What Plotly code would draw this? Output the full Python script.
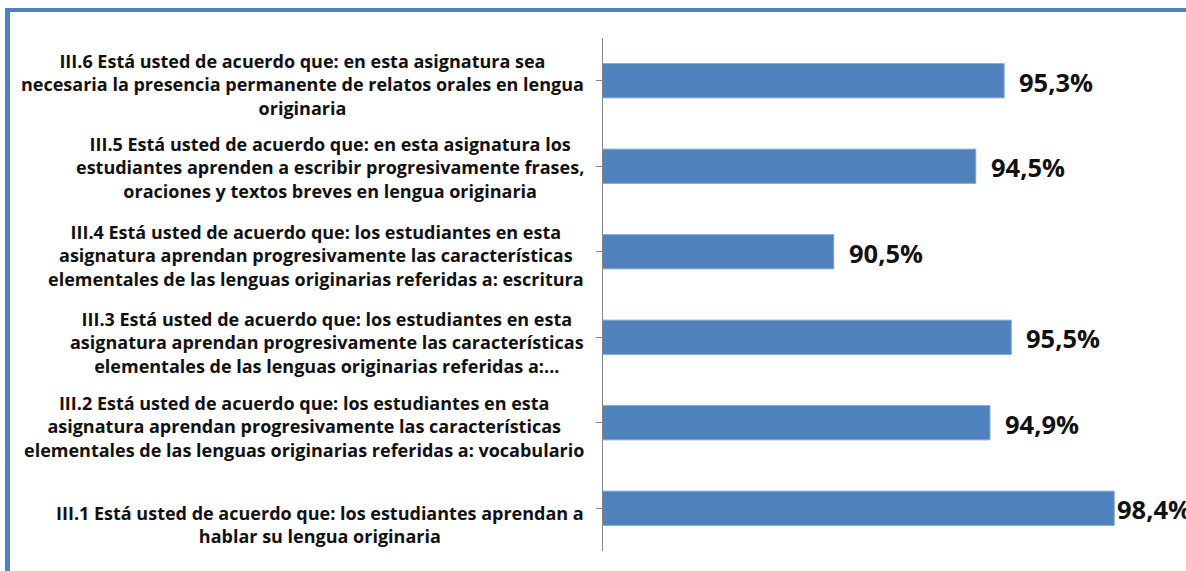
import plotly.graph_objects as go

# Survey items (bottom to top) and share of agreement, in percent
items = [
    "III.1 Está usted de acuerdo que: los estudiantes aprendan a<br>hablar su lengua originaria",
    "III.2 Está usted de acuerdo que: los estudiantes en esta<br>asignatura aprendan progresivamente las características<br>elementales de las lenguas originarias referidas a: vocabulario",
    "III.3 Está usted de acuerdo que: los estudiantes en esta<br>asignatura aprendan progresivamente las características<br>elementales de las lenguas originarias referidas a:...",
    "III.4 Está usted de acuerdo que: los estudiantes en esta<br>asignatura aprendan progresivamente las características<br>elementales de las lenguas originarias referidas a: escritura",
    "III.5 Está usted de acuerdo que: en esta asignatura los<br>estudiantes aprenden a escribir progresivamente frases,<br>oraciones y textos breves en lengua originaria",
    "III.6 Está usted de acuerdo que: en esta asignatura sea<br>necesaria la presencia permanente de relatos orales en lengua<br>originaria",
]
values = [98.4, 94.9, 95.5, 90.5, 94.5, 95.3]
value_labels = ["98,4%", "94,9%", "95,5%", "90,5%", "94,5%", "95,3%"]
x_range = [84, 100]

W, H = 1186, 571
ML, MR, MT, MB = 603, 15, 38, 20
PW, PH = W - ML - MR, H - MT - MB

def px_x(p):
    return (p - ML) / PW

def px_y(p):
    return 1 - (p - MT) / PH

BLUE = "#4F81BD"
cats = list(range(len(items)))

fig = go.Figure(
    go.Bar(
        x=values,
        y=cats,
        orientation="h",
        width=0.4,
        marker=dict(color=BLUE, line=dict(color="#7FA3D1", width=1)),
        hoverinfo="skip",
    )
)

label_font = dict(family="Open Sans", size=18, color="#111111")
value_font = dict(family="Open Sans", size=25.5, color="#111111")

annotations = []
shifts = [-16, -4, -5, -4, -1, -4]
for i, (txt, v, lab) in enumerate(zip(items, values, value_labels)):
    annotations.append(dict(
        x=px_x(586), xref="paper", y=i, yref="y",
        text="<b>" + txt + "</b>", showarrow=False,
        xanchor="right", yanchor="middle", align="center",
        font=label_font, yshift=shifts[i],
    ))
    # labels that would run past the page edge are tucked against the bar
    bar_end = ML + (v - x_range[0]) / (x_range[1] - x_range[0]) * PW
    gap = 13 if bar_end + 13 + 72 < W else 1
    annotations.append(dict(
        x=v, xref="x", y=i, yref="y",
        text="<b>" + lab + "</b>", showarrow=False,
        xanchor="left", yanchor="middle", xshift=gap, yshift=-1,
        font=value_font,
    ))

shapes = [
    # outer frame: top and left blue border
    dict(type="line", xref="paper", yref="paper",
         x0=px_x(5), x1=px_x(W + 5), y0=px_y(10), y1=px_y(10),
         line=dict(color=BLUE, width=4)),
    dict(type="line", xref="paper", yref="paper",
         x0=px_x(7.5), x1=px_x(7.5), y0=px_y(8), y1=px_y(H + 5),
         line=dict(color=BLUE, width=5)),
]

fig.update_layout(
    width=W, height=H,
    margin=dict(l=ML, r=MR, t=MT, b=MB),
    paper_bgcolor="white", plot_bgcolor="white",
    showlegend=False,
    xaxis=dict(range=x_range, visible=False, showgrid=False, zeroline=False),
    yaxis=dict(
        range=[-0.5, len(items) - 0.5],
        tickmode="array", tickvals=cats, ticktext=["" for _ in cats],
        tickson="boundaries", ticks="outside", ticklen=6,
        tickcolor="#868686", tickwidth=1,
        showline=True, linecolor="#868686", linewidth=1,
        showgrid=False, zeroline=False,
    ),
    annotations=annotations,
    shapes=shapes,
)

fig.write_html("out.html")
